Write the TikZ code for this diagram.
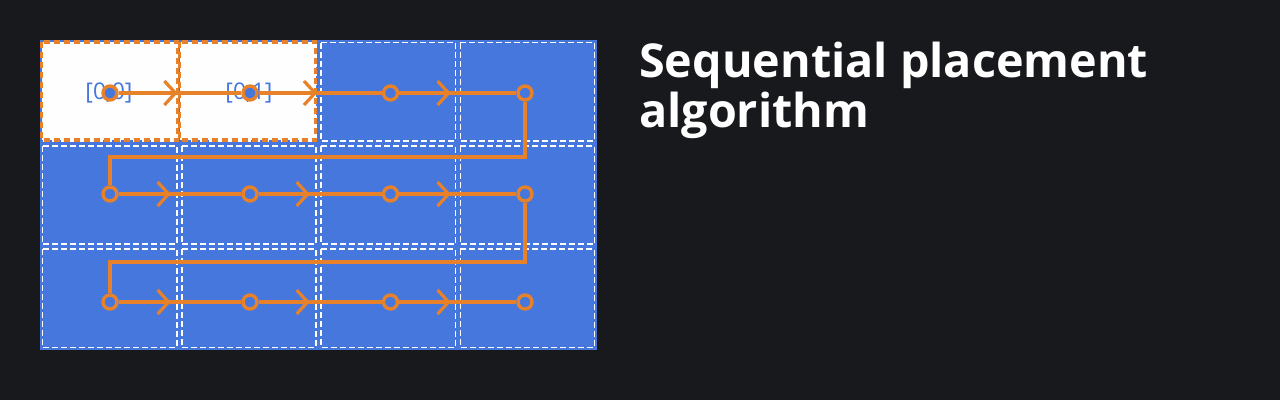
\documentclass[tikz,border=0pt]{standalone}
\usepackage{fontspec}
\setmainfont{Open Sans}
\usetikzlibrary{arrows.meta,decorations.markings}
\definecolor{bg}{HTML}{18191D}
\definecolor{gblue}{HTML}{4677DD}
\definecolor{gorange}{HTML}{E8822A}
\definecolor{cellwhite}{HTML}{FDFEFD}
\pgfdeclarelayer{back}
\pgfdeclarelayer{mid}
\pgfsetlayers{back,mid,main}
\tikzset{
 conn/.style={draw=gorange, line width=3.2pt},
 midarrow/.style={postaction={decorate},decoration={markings,mark=at position #1 with {\arrow[gorange,line width=3.2pt]{Straight Barb[length=11pt,width=24pt]}}}},
 place/.style={circle, draw=gorange, fill=gblue, line width=3.4pt, minimum size=14pt, inner sep=0pt},
 gridcell/.style={draw=white, line width=1.5pt, dash pattern=on 6pt off 3pt},
 selcell/.style={fill=cellwhite, draw=gorange, line width=3.2pt, dash pattern=on 6pt off 4pt},
 celllabel/.style={text=gblue, font=\fontsize{23}{23}\selectfont, inner sep=0pt},
 title/.style={text=white, font=\fontsize{46.7}{50}\selectfont\bfseries, anchor=base west, inner sep=0pt}
}
\begin{document}
\begin{tikzpicture}[x=1pt,y=-1pt]
\begin{pgfonlayer}{back}
\fill[bg] (0,0) rectangle (1280,400);
\fill[gblue] (40,40) rectangle (597,350);
\foreach \r in {0,1,2}{\foreach \c in {0,1,2,3}{
  \draw[gridcell] ({40+139.25*\c+2.5},{40+103.33*\r+2.5}) rectangle ({40+139.25*(\c+1)-2.5},{40+103.33*(\r+1)-2.5});
}}
\draw[selcell] (41.5,42) rectangle (177.5,140);
\draw[selcell] (179.5,42) rectangle (315.5,140);
\node[celllabel] (l00) at (109,93) {[0,0]};
\node[celllabel] (l01) at (249,93) {[0,1]};
\end{pgfonlayer}
\useasboundingbox (0,0) rectangle (1280,400);
% places
\node[place] (n00) at (110,93) {};
\node[place] (n01) at (250,93) {};
\node[place] (n02) at (390.5,93) {};
\node[place] (n03) at (525,93) {};
\node[place] (n10) at (110,194) {};
\node[place] (n11) at (250,194) {};
\node[place] (n12) at (390.5,194) {};
\node[place] (n13) at (525,194) {};
\node[place] (n20) at (110,302) {};
\node[place] (n21) at (250,302) {};
\node[place] (n22) at (390.5,302) {};
\node[place] (n23) at (525,302) {};
\coordinate (k1) at (525,157);
\coordinate (k2) at (525,262);
\begin{pgfonlayer}{mid}
\draw[conn,midarrow=0.48] (n00) -- (n01);
\draw[conn,midarrow=0.475] (n01) -- (n02);
\draw[conn,midarrow=0.44] (n02) -- (n03);
\draw[conn] (n03) -- (k1) -| (n10);
\draw[conn,midarrow=0.425] (n10) -- (n11);
\draw[conn,midarrow=0.415] (n11) -- (n12);
\draw[conn,midarrow=0.44] (n12) -- (n13);
\draw[conn] (n13) -- (k2) -| (n20);
\draw[conn,midarrow=0.425] (n20) -- (n21);
\draw[conn,midarrow=0.415] (n21) -- (n22);
\draw[conn,midarrow=0.44] (n22) -- (n23);
\end{pgfonlayer}
\node[title] (t1) at (639,77) {Sequential placement};
\node[title] (t2) at (639,127) {algorithm};
\end{tikzpicture}
\end{document}
